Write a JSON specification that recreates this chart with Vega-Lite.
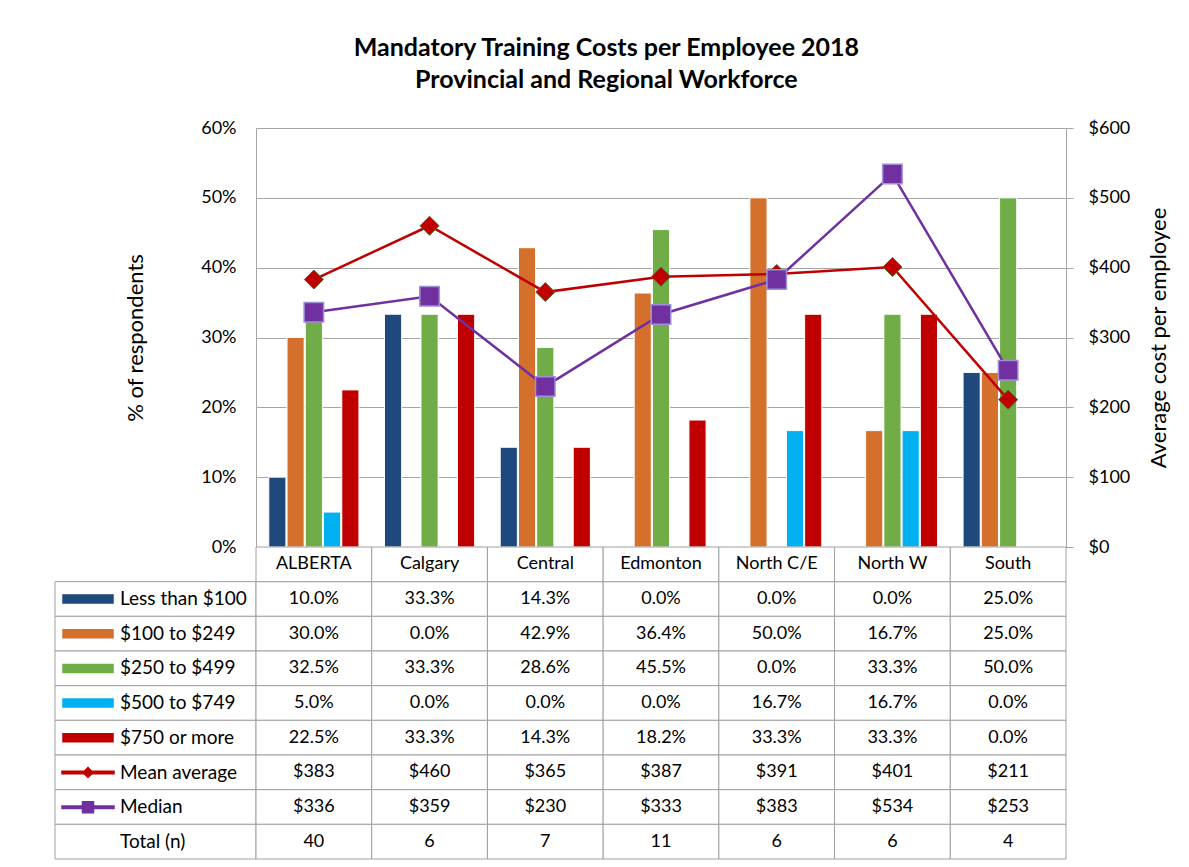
{
  "$schema": "https://vega.github.io/schema/vega-lite/v6.json",
  "padding": {"left": 54, "top": 35, "right": 0, "bottom": 0},
  "background": "white",
  "title": {
    "text": ["Mandatory Training Costs per Employee 2018", "Provincial and Regional Workforce"],
    "font": "Lato", "fontSize": 25, "fontWeight": "bold", "color": "#000000",
    "anchor": "middle", "lineHeight": 32, "offset": 26, "dx": -6
  },
  "datasets": {
    "d": [
      {"category": "ALBERTA", "series": "Less than $100", "value": 0.1},
      {"category": "ALBERTA", "series": "$100 to $249", "value": 0.3},
      {"category": "ALBERTA", "series": "$250 to $499", "value": 0.325},
      {"category": "ALBERTA", "series": "$500 to $749", "value": 0.05},
      {"category": "ALBERTA", "series": "$750 or more", "value": 0.225},
      {"category": "ALBERTA", "series": "Mean average", "value": 383},
      {"category": "ALBERTA", "series": "Median", "value": 336},
      {"category": "ALBERTA", "series": "Total (n)", "value": 40},
      {"category": "Calgary", "series": "Less than $100", "value": 0.333333},
      {"category": "Calgary", "series": "$100 to $249", "value": 0},
      {"category": "Calgary", "series": "$250 to $499", "value": 0.333333},
      {"category": "Calgary", "series": "$500 to $749", "value": 0},
      {"category": "Calgary", "series": "$750 or more", "value": 0.333333},
      {"category": "Calgary", "series": "Mean average", "value": 460},
      {"category": "Calgary", "series": "Median", "value": 359},
      {"category": "Calgary", "series": "Total (n)", "value": 6},
      {"category": "Central", "series": "Less than $100", "value": 0.142857},
      {"category": "Central", "series": "$100 to $249", "value": 0.428571},
      {"category": "Central", "series": "$250 to $499", "value": 0.285714},
      {"category": "Central", "series": "$500 to $749", "value": 0},
      {"category": "Central", "series": "$750 or more", "value": 0.142857},
      {"category": "Central", "series": "Mean average", "value": 365},
      {"category": "Central", "series": "Median", "value": 230},
      {"category": "Central", "series": "Total (n)", "value": 7},
      {"category": "Edmonton", "series": "Less than $100", "value": 0},
      {"category": "Edmonton", "series": "$100 to $249", "value": 0.363636},
      {"category": "Edmonton", "series": "$250 to $499", "value": 0.454545},
      {"category": "Edmonton", "series": "$500 to $749", "value": 0},
      {"category": "Edmonton", "series": "$750 or more", "value": 0.181818},
      {"category": "Edmonton", "series": "Mean average", "value": 387},
      {"category": "Edmonton", "series": "Median", "value": 333},
      {"category": "Edmonton", "series": "Total (n)", "value": 11},
      {"category": "North C/E", "series": "Less than $100", "value": 0},
      {"category": "North C/E", "series": "$100 to $249", "value": 0.5},
      {"category": "North C/E", "series": "$250 to $499", "value": 0},
      {"category": "North C/E", "series": "$500 to $749", "value": 0.166667},
      {"category": "North C/E", "series": "$750 or more", "value": 0.333333},
      {"category": "North C/E", "series": "Mean average", "value": 391},
      {"category": "North C/E", "series": "Median", "value": 383},
      {"category": "North C/E", "series": "Total (n)", "value": 6},
      {"category": "North W", "series": "Less than $100", "value": 0},
      {"category": "North W", "series": "$100 to $249", "value": 0.166667},
      {"category": "North W", "series": "$250 to $499", "value": 0.333333},
      {"category": "North W", "series": "$500 to $749", "value": 0.166667},
      {"category": "North W", "series": "$750 or more", "value": 0.333333},
      {"category": "North W", "series": "Mean average", "value": 401},
      {"category": "North W", "series": "Median", "value": 534},
      {"category": "North W", "series": "Total (n)", "value": 6},
      {"category": "South", "series": "Less than $100", "value": 0.25},
      {"category": "South", "series": "$100 to $249", "value": 0.25},
      {"category": "South", "series": "$250 to $499", "value": 0.5},
      {"category": "South", "series": "$500 to $749", "value": 0},
      {"category": "South", "series": "$750 or more", "value": 0},
      {"category": "South", "series": "Mean average", "value": 211},
      {"category": "South", "series": "Median", "value": 253},
      {"category": "South", "series": "Total (n)", "value": 4}
    ],
    "cats": [
      {"category": "ALBERTA"}, {"category": "Calgary"}, {"category": "Central"}, {"category": "Edmonton"},
      {"category": "North C/E"}, {"category": "North W"}, {"category": "South"}
    ]
  },
  "columns": 2,
  "spacing": 0,
  "bounds": "flush",
  "concat": [
    {
      "width": 201, "height": 419,
      "data": {"values": []},
      "mark": "text",
      "encoding": {}
    },
    {
      "width": 810, "height": 419,
      "view": {"stroke": "#A6A6A6"},
      "data": {"name": "d"},
      "layer": [
        {
          "transform": [{"filter": {"field": "series", "oneOf": ["Less than $100", "$100 to $249", "$250 to $499", "$500 to $749", "$750 or more"]}}],
          "mark": {"type": "bar", "stroke": "white", "strokeWidth": 1},
          "encoding": {
            "x": {"field": "category", "type": "nominal",
                  "sort": ["ALBERTA", "Calgary", "Central", "Edmonton", "North C/E", "North W", "South"],
                  "scale": {"paddingInner": 0, "paddingOuter": 0},
                  "axis": {"labels": false, "ticks": false, "title": null, "domain": false, "grid": false}},
            "xOffset": {"field": "series", "type": "nominal",
                  "sort": ["Less than $100", "$100 to $249", "$250 to $499", "$500 to $749", "$750 or more"],
                  "scale": {"paddingOuter": 0.7, "paddingInner": 0.06}},
            "y": {"field": "value", "type": "quantitative",
                  "scale": {"domain": [0, 0.6]},
                  "axis": {"format": ".0%", "tickCount": 6, "title": "% of respondents",
                           "labelFontSize": 18, "labelColor": "#000000", "labelFont": "Lato",
                           "labelPadding": 20, "ticks": false, "domain": false,
                           "grid": true, "gridColor": "#A6A6A6",
                           "titleFont": "Lato", "titleFontSize": 22, "titleFontWeight": "normal",
                           "titleColor": "#000000", "titlePadding": 53}},
            "color": {"field": "series", "type": "nominal",
                  "scale": {"domain": ["Less than $100", "$100 to $249", "$250 to $499", "$500 to $749", "$750 or more", "Mean average", "Median", "Total (n)"],
                            "range": ["#1F497D", "#D4702C", "#70AD47", "#00B0F0", "#C00000", "#C00000", "#7030A0", "#FFFFFF"]},
                  "legend": {
                    "orient": "none", "legendX": 22, "legendY": 460, "title": null, "padding": 0,
                    "direction": "vertical", "symbolOpacity": 1,
                    "symbolSize": 400, "rowPadding": 13.7, "labelOffset": 21,
                    "labelFont": "Lato", "labelFontSize": 19, "labelColor": "#000000", "labelLimit": 0
                  }}
          }
        },
        {
          "layer": [
            {
              "transform": [{"filter": {"field": "series", "oneOf": ["Mean average", "Median"]}}],
              "mark": {"type": "line", "strokeWidth": 2.5},
              "encoding": {
                "x": {"field": "category", "type": "nominal",
                      "sort": ["ALBERTA", "Calgary", "Central", "Edmonton", "North C/E", "North W", "South"]},
                "y": {"field": "value", "type": "quantitative",
                      "scale": {"domain": [0, 600]},
                      "axis": {"orient": "right", "format": "$,.0f", "tickCount": 6,
                               "title": "Average cost per employee",
                               "labelFontSize": 18, "labelColor": "#000000", "labelFont": "Lato",
                               "labelPadding": 15, "ticks": true, "tickSize": 7, "tickColor": "#A6A6A6",
                               "domain": false, "grid": false,
                               "titleFont": "Lato", "titleFontSize": 22, "titleFontWeight": "normal",
                               "titleColor": "#000000", "titlePadding": 41, "titleAngle": 270}},
                "color": {"field": "series", "type": "nominal"}
              }
            },
            {
              "transform": [{"filter": {"field": "series", "equal": "Mean average"}}],
              "mark": {"type": "point", "shape": "diamond", "size": 361, "filled": true,
                       "fill": "#C00000", "stroke": "#4F6228", "strokeWidth": 1, "opacity": 1},
              "encoding": {
                "x": {"field": "category", "type": "nominal",
                      "sort": ["ALBERTA", "Calgary", "Central", "Edmonton", "North C/E", "North W", "South"]},
                "y": {"field": "value", "type": "quantitative"}
              }
            },
            {
              "transform": [{"filter": {"field": "series", "equal": "Median"}}],
              "mark": {"type": "point", "shape": "square", "size": 380, "filled": true,
                       "fill": "#7030A0", "stroke": "#9E8FD6", "strokeWidth": 1.5, "opacity": 1},
              "encoding": {
                "x": {"field": "category", "type": "nominal",
                      "sort": ["ALBERTA", "Calgary", "Central", "Edmonton", "North C/E", "North W", "South"]},
                "y": {"field": "value", "type": "quantitative"}
              }
            }
          ]
        },
        {
          "transform": [{"filter": {"field": "category", "equal": "ALBERTA"}}],
          "mark": {"type": "point", "filled": true, "opacity": 0},
          "encoding": {
            "x": {"field": "category", "type": "nominal",
                  "sort": ["ALBERTA", "Calgary", "Central", "Edmonton", "North C/E", "North W", "South"]},
            "color": {"field": "series", "type": "nominal",
                  "legend": {
                    "orient": "none", "legendX": 22, "legendY": 460, "title": null, "padding": 0,
                    "direction": "vertical", "symbolOpacity": 1,
                    "symbolSize": 400, "rowPadding": 13.7, "labelOffset": 21,
                    "labelFont": "Lato", "labelFontSize": 19, "labelColor": "#000000", "labelLimit": 0
                  }},
            "shape": {"field": "series", "type": "nominal",
                  "scale": {"domain": ["Less than $100", "$100 to $249", "$250 to $499", "$500 to $749", "$750 or more", "Mean average", "Median", "Total (n)"],
                            "range": ["M-2.5,-0.4H2.5V0.4H-2.5Z", "M-2.5,-0.4H2.5V0.4H-2.5Z", "M-2.5,-0.4H2.5V0.4H-2.5Z", "M-2.5,-0.4H2.5V0.4H-2.5Z", "M-2.5,-0.4H2.5V0.4H-2.5Z",
                                      "M-2.6,-0.12H2.6V0.12H-2.6Z M-0.5,0L0,-0.5L0.5,0L0,0.5Z",
                                      "M-2.6,-0.12H2.6V0.12H-2.6Z M-0.55,-0.55H0.55V0.55H-0.55Z",
                                      "M0,0L0,0Z"]},
                  "legend": {
                    "orient": "none", "legendX": 22, "legendY": 460, "title": null, "padding": 0,
                    "direction": "vertical", "symbolOpacity": 1,
                    "symbolSize": 400, "rowPadding": 13.7, "labelOffset": 21,
                    "labelFont": "Lato", "labelFontSize": 19, "labelColor": "#000000", "labelLimit": 0
                  }}
          }
        }
      ],
      "resolve": {"scale": {"y": "independent"}}
    },
    {
      "width": 201, "height": 312,
      "data": {"name": "d"},
      "transform": [{"filter": {"field": "category", "equal": "ALBERTA"}}],
      "mark": {"type": "rect", "fill": "white", "stroke": "#A0A0A0", "strokeWidth": 1},
      "encoding": {
        "y": {"field": "series", "type": "nominal",
              "scale": {"domain": ["hdr", "Less than $100", "$100 to $249", "$250 to $499", "$500 to $749", "$750 or more", "Mean average", "Median", "Total (n)"],
                        "paddingInner": 0, "paddingOuter": 0},
              "axis": null}
      }
    },
    {
      "width": 810, "height": 312,
      "layer": [
        {
          "data": {"name": "d"},
          "mark": {"type": "rect", "fill": "white", "stroke": "#A0A0A0", "strokeWidth": 1},
          "encoding": {
            "x": {"field": "category", "type": "nominal",
                  "sort": ["ALBERTA", "Calgary", "Central", "Edmonton", "North C/E", "North W", "South"],
                  "scale": {"paddingInner": 0, "paddingOuter": 0}, "axis": null},
            "y": {"field": "series", "type": "nominal",
                  "scale": {"domain": ["hdr", "Less than $100", "$100 to $249", "$250 to $499", "$500 to $749", "$750 or more", "Mean average", "Median", "Total (n)"],
                            "paddingInner": 0, "paddingOuter": 0},
                  "axis": null}
          }
        },
        {
          "data": {"name": "cats"},
          "mark": {"type": "rect", "fill": "white", "stroke": "#A0A0A0", "strokeWidth": 1},
          "encoding": {
            "x": {"field": "category", "type": "nominal"},
            "y": {"datum": "hdr", "type": "nominal"}
          }
        },
        {
          "data": {"name": "cats"},
          "mark": {"type": "text", "font": "Lato", "fontSize": 18, "color": "#000000"},
          "encoding": {
            "x": {"field": "category", "type": "nominal"},
            "y": {"datum": "hdr", "type": "nominal"},
            "text": {"field": "category", "type": "nominal"}
          }
        },
        {
          "data": {"name": "d"},
          "transform": [{"filter": {"field": "series", "oneOf": ["Less than $100", "$100 to $249", "$250 to $499", "$500 to $749", "$750 or more"]}}],
          "mark": {"type": "text", "font": "Lato", "fontSize": 18, "color": "#000000"},
          "encoding": {
            "x": {"field": "category", "type": "nominal"},
            "y": {"field": "series", "type": "nominal"},
            "text": {"field": "value", "type": "quantitative", "format": ".1%"}
          }
        },
        {
          "data": {"name": "d"},
          "transform": [{"filter": {"field": "series", "oneOf": ["Mean average", "Median"]}}],
          "mark": {"type": "text", "font": "Lato", "fontSize": 18, "color": "#000000"},
          "encoding": {
            "x": {"field": "category", "type": "nominal"},
            "y": {"field": "series", "type": "nominal"},
            "text": {"field": "value", "type": "quantitative", "format": "$,.0f"}
          }
        },
        {
          "data": {"name": "d"},
          "transform": [{"filter": {"field": "series", "equal": "Total (n)"}}],
          "mark": {"type": "text", "font": "Lato", "fontSize": 18, "color": "#000000"},
          "encoding": {
            "x": {"field": "category", "type": "nominal"},
            "y": {"field": "series", "type": "nominal"},
            "text": {"field": "value", "type": "quantitative", "format": "d"}
          }
        }
      ]
    }
  ],
  "config": {
    "view": {"stroke": null},
    "font": "Lato"
  }
}
